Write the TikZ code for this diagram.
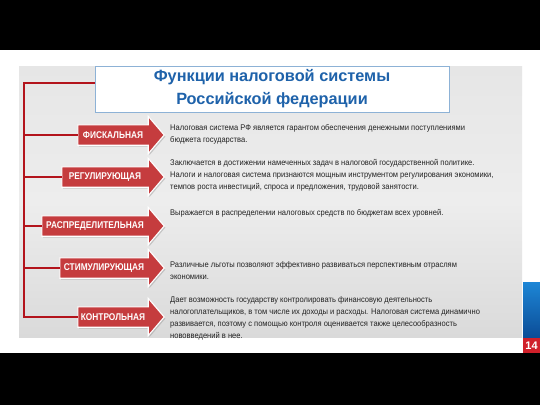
\documentclass[tikz,border=0pt]{standalone}
\usepackage{fontspec}
\setmainfont{Liberation Sans}
\newfontfamily\descfont[FakeStretch=0.92]{Liberation Sans}
\newfontfamily\labfont[FakeStretch=0.85]{Liberation Sans}
\usetikzlibrary{shadows,calc}
\pgfdeclarelayer{panel}
\pgfdeclarelayer{arrowlayer}
\pgfsetlayers{panel,arrowlayer,main}
\definecolor{panelA}{HTML}{E6E6E6}
\definecolor{panelB}{HTML}{EDEDED}
\definecolor{panelC}{HTML}{DADADA}
\definecolor{arrred}{HTML}{C53C3E}
\definecolor{brk}{HTML}{B3141C}
\definecolor{titleblue}{HTML}{1E62AA}
\definecolor{titleframe}{HTML}{8DB2D6}
\definecolor{stripA}{HTML}{1D86D6}
\definecolor{stripB}{HTML}{0B4C96}
\definecolor{numred}{HTML}{D0202A}
\definecolor{desctext}{HTML}{222222}
\newcommand\redarrow[1]{%
  \begin{pgfonlayer}{arrowlayer}
  \path[arrowbody] (#1.north west) -- (#1.north east) -- ([yshift=8.5pt]#1.north east)
    -- ([xshift=16pt]#1.east) -- ([yshift=-8.5pt]#1.south east) -- (#1.south east)
    -- (#1.south west) -- cycle;
  \end{pgfonlayer}}
\begin{document}
\begin{tikzpicture}[x=1pt,y=-1pt,
  arrowbody/.style={fill=arrred,draw=white,line width=1.1pt,line join=miter,
    drop shadow={opacity=0.35,shadow xshift=1.2pt,shadow yshift=-1.5pt}},
  lab/.style={text=white,font=\labfont\bfseries\fontsize{9.8}{11}\selectfont,
    minimum height=20pt,inner sep=0pt,anchor=center},
  desc/.style={anchor=north west,align=left,inner sep=0pt,text=desctext,
    font=\descfont\fontsize{8.2}{12}\selectfont},
  bracket/.style={draw=brk,line width=1.8pt},
  titlebox/.style={draw=titleframe,fill=white,line width=0.8pt,
    minimum width=354pt,minimum height=46pt,align=center,text=titleblue,
    font=\bfseries\fontsize{16.3}{23}\selectfont}]
\useasboundingbox (0,0) rectangle (540,405);
\begin{pgfonlayer}{panel}
\fill[black] (0,0) rectangle (540,50);
\fill[white] (0,50) rectangle (540,353);
\fill[black] (0,353) rectangle (540,405);
\shade[top color=panelA,bottom color=panelC,middle color=panelB] (19,66) rectangle (522,337);
\shade[top color=stripA,bottom color=stripB] (523,282) rectangle (540,338);
\fill[numred] (523,338) rectangle (540,353);
\end{pgfonlayer}
\node[text=white,font=\bfseries\fontsize{11}{12}\selectfont,inner sep=0pt] (num) at (531.5,345.5) {14};

\node[titlebox] (title) at (272,89) {Функции налоговой системы\\Российской федерации};

\node[lab,minimum width=70pt] (fisk) at (113,135) {ФИСКАЛЬНАЯ};
\node[lab,minimum width=86pt] (reg) at (105,177) {РЕГУЛИРУЮЩАЯ};
\node[lab,minimum width=106pt] (rasp) at (95,226) {РАСПРЕДЕЛИТЕЛЬНАЯ};
\node[lab,minimum width=88pt] (stim) at (104,268) {СТИМУЛИРУЮЩАЯ};
\node[lab,minimum width=70pt] (kontr) at (113,317) {КОНТРОЛЬНАЯ};
\redarrow{fisk}\redarrow{reg}\redarrow{rasp}\redarrow{stim}\redarrow{kontr}

\coordinate (spine) at (24,0);
\draw[bracket] ([yshift=6pt]title.west) -| (spine |- kontr.west) -- (kontr.west);
\draw[bracket] (spine |- fisk.west) -- (fisk.west);
\draw[bracket] (spine |- reg.west) -- (reg.west);
\draw[bracket] (spine |- rasp.west) -- (rasp.west);
\draw[bracket] (spine |- stim.west) -- (stim.west);

\node[desc] (d1) at (170,124.5) {Налоговая система РФ является гарантом обеспечения денежными поступлениями\\бюджета государства.};
\node[desc] (d2) at (170,159.5) {Заключается в достижении намеченных задач в налоговой государственной политике.\\Налоги и налоговая система признаются мощным инструментом регулирования экономики,\\темпов роста инвестиций, спроса и предложения, трудовой занятости.};
\node[desc] (d3) at (170,209.5) {Выражается в распределении налоговых средств по бюджетам всех уровней.};
\node[desc] (d4) at (170,261.5) {Различные льготы позволяют эффективно развиваться перспективным отраслям\\экономики.};
\node[desc] (d5) at (170,296.5) {Дает возможность государству контролировать финансовую деятельность\\налогоплательщиков, в том числе их доходы и расходы. Налоговая система динамично\\развивается, поэтому с помощью контроля оценивается также целесообразность\\нововведений в нее.};
\end{tikzpicture}
\end{document}
